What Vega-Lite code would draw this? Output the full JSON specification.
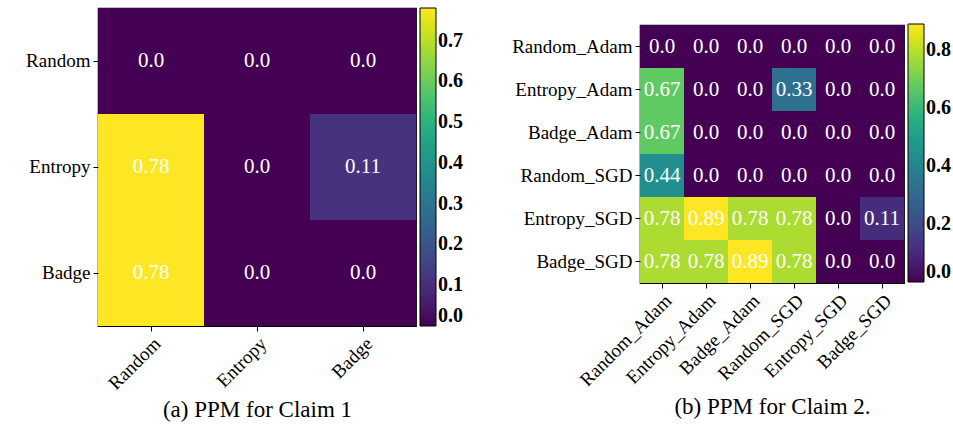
{
  "$schema": "https://vega.github.io/schema/vega-lite/v6.json",
  "padding": {"left": 25, "top": 7, "right": 0, "bottom": 0},
  "spacing": 47,
  "datasets": {
    "a": [
      {"row": "Random", "col": "Random", "v": 0, "label": "0.0"},
      {"row": "Random", "col": "Entropy", "v": 0, "label": "0.0"},
      {"row": "Random", "col": "Badge", "v": 0, "label": "0.0"},
      {"row": "Entropy", "col": "Random", "v": 0.78, "label": "0.78"},
      {"row": "Entropy", "col": "Entropy", "v": 0, "label": "0.0"},
      {"row": "Entropy", "col": "Badge", "v": 0.11, "label": "0.11"},
      {"row": "Badge", "col": "Random", "v": 0.78, "label": "0.78"},
      {"row": "Badge", "col": "Entropy", "v": 0, "label": "0.0"},
      {"row": "Badge", "col": "Badge", "v": 0, "label": "0.0"}
    ],
    "b": [
      {"row": "Random_Adam", "col": "Random_Adam", "v": 0, "label": "0.0"},
      {"row": "Random_Adam", "col": "Entropy_Adam", "v": 0, "label": "0.0"},
      {"row": "Random_Adam", "col": "Badge_Adam", "v": 0, "label": "0.0"},
      {"row": "Random_Adam", "col": "Random_SGD", "v": 0, "label": "0.0"},
      {"row": "Random_Adam", "col": "Entropy_SGD", "v": 0, "label": "0.0"},
      {"row": "Random_Adam", "col": "Badge_SGD", "v": 0, "label": "0.0"},
      {"row": "Entropy_Adam", "col": "Random_Adam", "v": 0.67, "label": "0.67"},
      {"row": "Entropy_Adam", "col": "Entropy_Adam", "v": 0, "label": "0.0"},
      {"row": "Entropy_Adam", "col": "Badge_Adam", "v": 0, "label": "0.0"},
      {"row": "Entropy_Adam", "col": "Random_SGD", "v": 0.33, "label": "0.33"},
      {"row": "Entropy_Adam", "col": "Entropy_SGD", "v": 0, "label": "0.0"},
      {"row": "Entropy_Adam", "col": "Badge_SGD", "v": 0, "label": "0.0"},
      {"row": "Badge_Adam", "col": "Random_Adam", "v": 0.67, "label": "0.67"},
      {"row": "Badge_Adam", "col": "Entropy_Adam", "v": 0, "label": "0.0"},
      {"row": "Badge_Adam", "col": "Badge_Adam", "v": 0, "label": "0.0"},
      {"row": "Badge_Adam", "col": "Random_SGD", "v": 0, "label": "0.0"},
      {"row": "Badge_Adam", "col": "Entropy_SGD", "v": 0, "label": "0.0"},
      {"row": "Badge_Adam", "col": "Badge_SGD", "v": 0, "label": "0.0"},
      {"row": "Random_SGD", "col": "Random_Adam", "v": 0.44, "label": "0.44"},
      {"row": "Random_SGD", "col": "Entropy_Adam", "v": 0, "label": "0.0"},
      {"row": "Random_SGD", "col": "Badge_Adam", "v": 0, "label": "0.0"},
      {"row": "Random_SGD", "col": "Random_SGD", "v": 0, "label": "0.0"},
      {"row": "Random_SGD", "col": "Entropy_SGD", "v": 0, "label": "0.0"},
      {"row": "Random_SGD", "col": "Badge_SGD", "v": 0, "label": "0.0"},
      {"row": "Entropy_SGD", "col": "Random_Adam", "v": 0.78, "label": "0.78"},
      {"row": "Entropy_SGD", "col": "Entropy_Adam", "v": 0.89, "label": "0.89"},
      {"row": "Entropy_SGD", "col": "Badge_Adam", "v": 0.78, "label": "0.78"},
      {"row": "Entropy_SGD", "col": "Random_SGD", "v": 0.78, "label": "0.78"},
      {"row": "Entropy_SGD", "col": "Entropy_SGD", "v": 0, "label": "0.0"},
      {"row": "Entropy_SGD", "col": "Badge_SGD", "v": 0.11, "label": "0.11"},
      {"row": "Badge_SGD", "col": "Random_Adam", "v": 0.78, "label": "0.78"},
      {"row": "Badge_SGD", "col": "Entropy_Adam", "v": 0.78, "label": "0.78"},
      {"row": "Badge_SGD", "col": "Badge_Adam", "v": 0.89, "label": "0.89"},
      {"row": "Badge_SGD", "col": "Random_SGD", "v": 0.78, "label": "0.78"},
      {"row": "Badge_SGD", "col": "Entropy_SGD", "v": 0, "label": "0.0"},
      {"row": "Badge_SGD", "col": "Badge_SGD", "v": 0, "label": "0.0"}
    ]
  },
  "config": {
    "font": "Liberation Serif",
    "view": {"stroke": "black", "strokeWidth": 1.2},
    "axis": {
      "labelFont": "Liberation Serif",
      "labelFontSize": 19,
      "labelColor": "black",
      "tickColor": "black",
      "tickSize": 5,
      "labelPadding": 3,
      "domain": false,
      "grid": false,
      "titleFont": "Liberation Serif",
      "titleFontWeight": "normal",
      "titleFontSize": 23,
      "titleColor": "black"
    },
    "legend": {
      "labelFont": "Liberation Serif",
      "labelFontSize": 20,
      "labelFontWeight": "bold",
      "labelColor": "black",
      "labelOverlap": false,
      "gradientStrokeColor": "black",
      "gradientStrokeWidth": 1,
      "gradientThickness": 16,
      "offset": 4,
      "labelOffset": 6
    }
  },
  "hconcat": [
    {
      "width": 318,
      "height": 318,
      "data": {"name": "a"},
      "encoding": {
        "x": {"field": "col", "type": "nominal", "sort": ["Random", "Entropy", "Badge"],
          "axis": {"labelAngle": -45, "labelAlign": "right", "labelBaseline": "top", "title": "(a) PPM for Claim 1", "titlePadding": 6}},
        "y": {"field": "row", "type": "nominal", "sort": ["Random", "Entropy", "Badge"], "axis": {"title": null}}
      },
      "layer": [
        {
          "mark": {"type": "rect"},
          "encoding": {
            "color": {"field": "v", "type": "quantitative",
              "scale": {"scheme": "viridis", "domain": [0, 0.78]},
              "legend": {"title": null, "direction": "vertical", "gradientLength": 318, "values": [0, 0.1, 0.2, 0.3, 0.4, 0.5, 0.6, 0.7], "format": ".1f"}}
          }
        },
        {
          "mark": {"type": "text", "fontSize": 21, "color": "white", "font": "Liberation Serif"},
          "encoding": {"text": {"field": "label"}}
        }
      ]
    },
    {
      "spacing": 0,
      "vconcat": [
        {
          "width": 264,
          "height": 16,
          "view": {"stroke": null},
          "data": {"values": []},
          "mark": {"type": "point"}
        },
        {
          "width": 264,
          "height": 258,
          "data": {"name": "b"},
          "encoding": {
            "x": {"field": "col", "type": "nominal", "sort": ["Random_Adam", "Entropy_Adam", "Badge_Adam", "Random_SGD", "Entropy_SGD", "Badge_SGD"],
              "axis": {"labelAngle": -45, "labelAlign": "right", "labelBaseline": "top", "title": "(b) PPM for Claim 2.", "titlePadding": 6}},
            "y": {"field": "row", "type": "nominal", "sort": ["Random_Adam", "Entropy_Adam", "Badge_Adam", "Random_SGD", "Entropy_SGD", "Badge_SGD"], "axis": {"title": null}}
          },
          "layer": [
            {
              "mark": {"type": "rect"},
              "encoding": {
                "color": {"field": "v", "type": "quantitative",
                  "scale": {"scheme": "viridis", "domain": [0, 0.89]},
                  "legend": {"title": null, "orient": "none", "legendX": 268, "legendY": 16, "direction": "vertical", "gradientLength": 258, "values": [0, 0.2, 0.4, 0.6, 0.8], "format": ".1f"}}
              }
            },
            {
              "mark": {"type": "text", "fontSize": 21, "color": "white", "font": "Liberation Serif"},
              "encoding": {"text": {"field": "label"}}
            }
          ]
        }
      ]
    }
  ],
  "resolve": {"scale": {"color": "independent"}}
}
